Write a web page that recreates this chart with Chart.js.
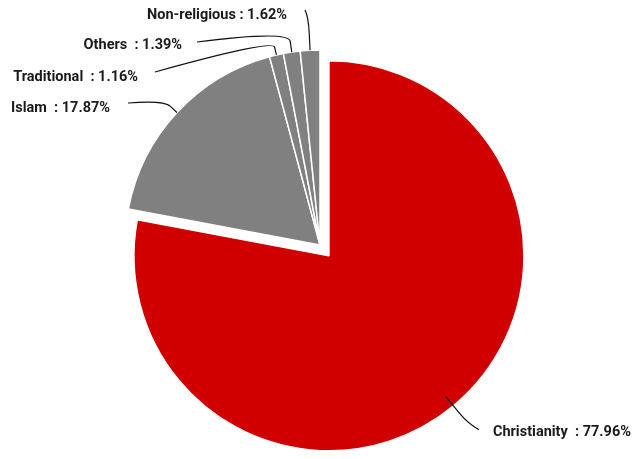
<!DOCTYPE html>
<html>
<head>
<meta charset="utf-8">
<script src="https://cdn.jsdelivr.net/npm/chart.js@4/dist/chart.umd.min.js"></script>
<style>
  html, body { margin: 0; padding: 0; background: #fff; }
  #wrap { width: 634px; height: 459px; }
</style>
</head>
<body>
<div id="wrap"><canvas id="chart" width="634" height="459"></canvas></div>
<script>
// data
var categories = ['Christianity', 'Islam', 'Traditional', 'Others', 'Non-religious'];
var shares = [77.96, 17.87, 1.16, 1.39, 1.62];
var sliceColors = ['#d10000', '#808080', '#808080', '#808080', '#808080'];

// how far each slice is pulled out of the pie (px)
var pull = [14, 0, 0, 0, 0];

// label layout, relative to the slice's own centre (px)
// tx,ty = text anchor; ex,ey = leader end; s = leader start (r + s); e = elbow (r + e)
var labelLayout = [
  {tx: 164, ty: 177, align: 'left',  ex: 150, ey: 174, s: -12, e: 22, sep: '  : '},
  {tx: -210, ty: -137, align: 'right', ex: -192, ey: -142, s: 0, e: 18, sep: '  : '},
  {tx: -182, ty: -168, align: 'right', ex: -165, ey: -173, s: 0, e: 16, sep: '  : '},
  {tx: -138, ty: -200, align: 'right', ex: -123, ey: -203, s: 0, e: 22, sep: '  : '},
  {tx: -33, ty: -230, align: 'right', ex: -15, ey: -235, s: 0, e: 34, sep: ' : '}
];

function shift(arc, i) {
  var mid = (arc.startAngle + arc.endAngle) / 2;
  return [Math.cos(mid) * pull[i], Math.sin(mid) * pull[i]];
}

// move slices out without changing their radius (built-in offset also grows the arc)
var pullOut = {
  id: 'pullOut',
  beforeDatasetsDraw: function(chart) {
    chart.getDatasetMeta(0).data.forEach(function(arc, i) {
      if (!pull[i] || arc._pulled) return;
      arc._pulled = true;
      var baseDraw = arc.draw;
      arc.draw = function(ctx) {
        var d = shift(this, i);
        ctx.save();
        ctx.translate(d[0], d[1]);
        baseDraw.call(this, ctx);
        ctx.restore();
      };
    });
  }
};

// leader lines + labels
var outsideLabels = {
  id: 'outsideLabels',
  afterDatasetsDraw: function(chart) {
    var ctx = chart.ctx;
    var arcs = chart.getDatasetMeta(0).data;
    ctx.save();
    ctx.font = 'bold 14.5px Roboto, "DejaVu Sans", sans-serif';
    ctx.textBaseline = 'middle';
    arcs.forEach(function(arc, i) {
      var lay = labelLayout[i];
      var mid = (arc.startAngle + arc.endAngle) / 2;
      var d = shift(arc, i);
      var cx = arc.x + d[0];
      var cy = arc.y + d[1];
      var r = arc.outerRadius;
      function at(rr) { return [cx + Math.cos(mid) * rr, cy + Math.sin(mid) * rr]; }
      var p0 = at(r + lay.s);
      var pA = at(r + lay.e * 0.5);
      var pB = at(r + lay.e);
      ctx.beginPath();
      ctx.strokeStyle = '#111';
      ctx.lineWidth = 1.2;
      ctx.moveTo(p0[0], p0[1]);
      ctx.lineTo(pA[0], pA[1]);
      ctx.quadraticCurveTo(pB[0], pB[1], cx + lay.ex, cy + lay.ey);
      ctx.stroke();

      ctx.fillStyle = '#1a1a1a';
      ctx.textAlign = lay.align;
      ctx.fillText(categories[i] + lay.sep + shares[i].toFixed(2) + '%', cx + lay.tx, cy + lay.ty);
    });
    ctx.restore();
  }
};

var chart = new Chart(document.getElementById('chart').getContext('2d'), {
  type: 'pie',
  data: {
    labels: categories,
    datasets: [{
      data: shares,
      backgroundColor: sliceColors,
      borderColor: '#ffffff',
      borderWidth: 1.5,
      radius: 195
    }]
  },
  options: {
    responsive: false,
    animation: false,
    layout: { padding: { left: 6, right: 0, top: 31, bottom: 0 } },
    plugins: {
      legend: { display: false },
      tooltip: { enabled: false }
    }
  },
  plugins: [pullOut, outsideLabels]
});
</script>
</body>
</html>
